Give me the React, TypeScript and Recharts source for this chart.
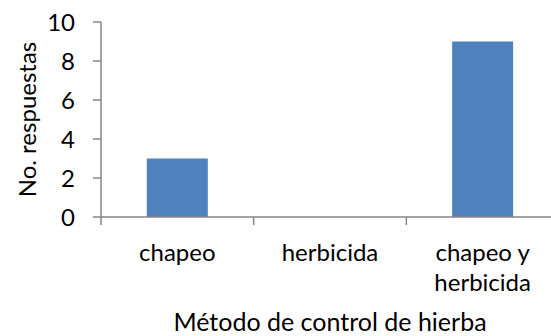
import React from 'react';
import { BarChart, Bar, XAxis, YAxis, Label } from 'recharts';

const categories = ['chapeo', 'herbicida', 'chapeo y herbicida'];
const categoryLines = [['chapeo'], ['herbicida'], ['chapeo y', 'herbicida']];
const respuestas = [3, 0, 9];
const yTicks = [0, 2, 4, 6, 8, 10];

const data = categories.map((c, i) => ({ name: c, value: respuestas[i] }));

const FONT = 'Lato, "Open Sans", sans-serif';
const AXIS = '#868686';

const XTick = (props: any) => {
  const { x, y, index, width, visibleTicksCount } = props;
  const band = width / (visibleTicksCount || categories.length);
  const lines = categoryLines[index] || [props.payload.value];
  const left = x - band / 2;
  return (
    <g>
      <line x1={left} x2={left} y1={y} y2={y + 8} stroke={AXIS} strokeWidth={1.5} />
      {index === categories.length - 1 && (
        <line x1={x + band / 2} x2={x + band / 2} y1={y} y2={y + 8} stroke={AXIS} strokeWidth={1.5} />
      )}
      <text x={x} y={y} textAnchor="middle" fontFamily={FONT} fontSize={24} fill="#000">
        {lines.map((l: string, i: number) => (
          <tspan key={i} x={x} dy={i === 0 ? 44 : 30}>{l}</tspan>
        ))}
      </text>
    </g>
  );
};

export default function App() {
  return (
    <div style={{ position: 'absolute', left: 0, top: 0, width: 551, height: 336, overflow: 'hidden', background: '#fff' }}>
      <BarChart width={570} height={336} data={data} margin={{ top: 22, right: 11, left: 0, bottom: 0 }} barCategoryGap="30%">
        <XAxis
          dataKey="name"
          height={119}
          stroke={AXIS}
          strokeWidth={1.5}
          tickLine={false}
          tickSize={0}
          tickMargin={0}
          tick={<XTick />}
          interval={0}
        >
          <Label value="Método de control de hierba" position="insideBottom" offset={5} style={{ fontFamily: FONT, fontSize: 25, fill: '#000' }} />
        </XAxis>
        <YAxis
          width={101}
          domain={[0, 10]}
          ticks={yTicks}
          interval={0}
          stroke={AXIS}
          strokeWidth={1.5}
          tickSize={8}
          tickMargin={18}
          tick={{ fill: '#000', fontFamily: FONT, fontSize: 24 }}
        >
          <Label value="No. respuestas" angle={-90} position="insideLeft" offset={27} style={{ textAnchor: 'middle', fontFamily: FONT, fontSize: 24, fill: '#000' }} />
        </YAxis>
        <Bar dataKey="value" fill="#4f81bd" isAnimationActive={false} />
      </BarChart>
    </div>
  );
}
